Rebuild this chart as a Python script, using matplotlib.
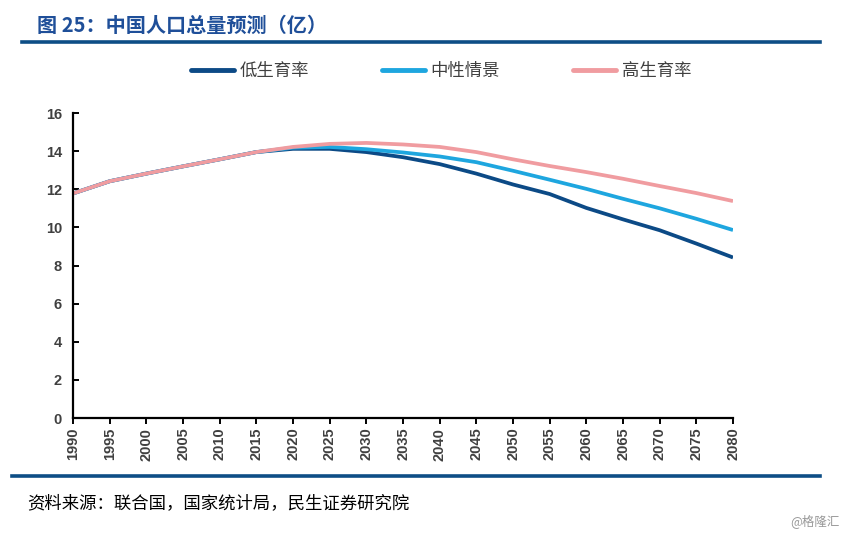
import matplotlib
matplotlib.use("Agg")
import matplotlib.pyplot as plt
from matplotlib.lines import Line2D

plt.rcParams['font.family'] = ['Noto Sans CJK SC', 'DejaVu Sans']

years = [1990, 1995, 2000, 2005, 2010, 2015, 2020, 2025, 2030, 2035, 2040,
         2045, 2050, 2055, 2060, 2065, 2070, 2075, 2080]
low = [11.78, 12.42, 12.82, 13.2, 13.57, 13.95, 14.12, 14.12, 13.95, 13.68, 13.32,
       12.82, 12.25, 11.75, 11.02, 10.42, 9.85, 9.15, 8.42]
mid = [11.78, 12.42, 12.82, 13.2, 13.57, 13.95, 14.18, 14.22, 14.1, 13.93, 13.72,
       13.42, 12.97, 12.5, 12.02, 11.5, 11.0, 10.45, 9.86]
high = [11.78, 12.42, 12.82, 13.2, 13.57, 13.95, 14.22, 14.38, 14.43, 14.35, 14.22,
        13.95, 13.57, 13.22, 12.9, 12.55, 12.17, 11.8, 11.38]
series_names = ['低生育率', '中性情景', '高生育率']
colors = ['#0C4A86', '#1EA6DF', '#F09CA0']
xticks = list(range(1990, 2081, 5))
yticks = list(range(0, 17, 2))

fig = plt.figure(figsize=(8.47, 5.34), dpi=100)
ax = fig.add_axes([73/847, 1-418/534, 660/847, 305/534])

for vals, c, n in zip([low, mid, high], colors, series_names):
    ax.plot(years, vals, color=c, lw=2.7, label=n, solid_capstyle='butt')

ax.set_xlim(1990, 2080)
ax.set_ylim(0, 16)
ax.set_xticks(xticks)
ax.set_xticklabels([str(x) for x in xticks], rotation=90, fontsize=10.5,
                   fontweight='bold', color='#404040', family='Liberation Sans')
ax.set_yticks(yticks)
ax.set_yticklabels([str(y) for y in yticks], fontsize=10.5, fontweight='bold',
                   color='#404040', family='Liberation Sans')
for s in ['top', 'right']:
    ax.spines[s].set_visible(False)
for s in ['left', 'bottom']:
    ax.spines[s].set_linewidth(1.6)
    ax.spines[s].set_color('black')
ax.tick_params(axis='y', direction='in', length=4, width=1.4, pad=8)
ax.tick_params(axis='x', direction='out', length=4, width=1.4, pad=3)

leg = ax.legend(loc='lower left', bbox_to_anchor=(191/847, 1-80/534),
                bbox_transform=fig.transFigure, ncol=3, frameon=False,
                fontsize=12.5, handlelength=2.5, handletextpad=0.3,
                columnspacing=4.2, borderpad=0, borderaxespad=0)
for t in leg.get_texts():
    t.set_color('#404040')
for h in leg.get_lines():
    h.set_linewidth(3.5)
    h.set_solid_capstyle('round')

fig.text(37/847, 1-25/534, '图 25：中国人口总量预测（亿）', fontsize=14.5,
         fontweight='bold', color='#1F4F99', va='center', ha='left')
fig.add_artist(Line2D([22/847, 820/847], [1-42/534, 1-42/534],
                      color='#0D4E86', lw=2.6, transform=fig.transFigure))
fig.add_artist(Line2D([12/847, 820/847], [1-476/534, 1-476/534],
                      color='#0D4E86', lw=2.6, transform=fig.transFigure))
fig.text(27/847, 1-503/534, '资料来源：联合国，国家统计局，民生证券研究院', fontsize=12.5,
         color='black', va='center', ha='left')
fig.text(840/847, 1-521/534, '@格隆汇', fontsize=9, color='#999999',
         va='center', ha='right')

fig.savefig('out.png', dpi=100, facecolor='white')
